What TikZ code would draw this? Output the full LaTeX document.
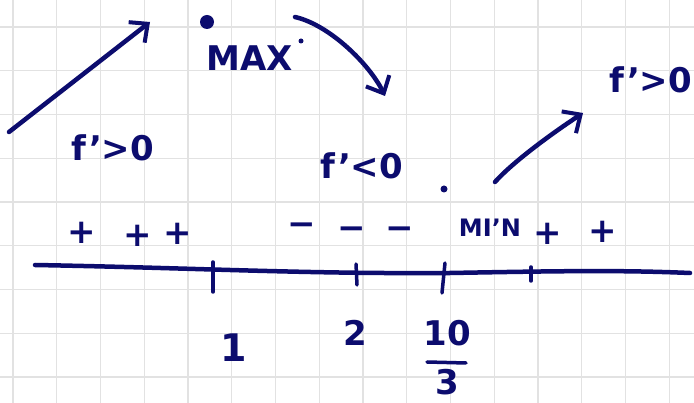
\documentclass[tikz,border=0pt]{standalone}
\usepackage{fontspec}
\setmainfont{DejaVu Sans}
\usetikzlibrary{arrows.meta}
\definecolor{ink}{HTML}{0C0C6E}
\definecolor{gridc}{HTML}{E2E2E2}
\tikzset{
  pen/.style={draw=ink,line width=4.5pt,line cap=round,line join=round},
  tickpen/.style={draw=ink,line width=3.5pt,line cap=round},
  hand/.style={text=ink,inner sep=0pt,font=\bfseries\fontsize{34}{34}\selectfont},
  bighand/.style={text=ink,inner sep=0pt,font=\bfseries\fontsize{38}{38}\selectfont},
  smallhand/.style={text=ink,inner sep=0pt,font=\bfseries\fontsize{24}{24}\selectfont},
  barb/.style={-{Straight Barb[length=14pt,width=26pt,line width=4pt]}}
}
\begin{document}
\begin{tikzpicture}[x=1pt,y=-1pt]
\useasboundingbox (0,0) rectangle (694,403);
\fill[white] (0,0) rectangle (694,403);
% grid
\foreach \i in {0,...,15} {
  \draw[gridc,line width=1.4pt] ({13+43.75*\i},0) -- ({13+43.75*\i},403);
}
\foreach \j in {0,...,8} {
  \draw[gridc,line width=1.4pt] (0,{27+43.75*\j}) -- (694,{27+43.75*\j});
}
% number line
\coordinate (lineL) at (35,265);
\coordinate (lineR) at (690,273);
\draw[pen] (lineL) .. controls (200,268) and (300,274) .. (450,273) .. controls (560,271) and (620,270) .. (lineR);
% ticks
\coordinate (t1a) at (213,262); \coordinate (t1b) at (213,292);
\coordinate (t2a) at (356,264); \coordinate (t2b) at (357,285);
\coordinate (t3a) at (445,263); \coordinate (t3b) at (442,293);
\coordinate (t4a) at (531,267); \coordinate (t4b) at (531,281);
\draw[tickpen] (t1a) -- (t1b);
\draw[tickpen] (t2a) -- (t2b);
\draw[tickpen] (t3a) -- (t3b);
\draw[tickpen] (t4a) -- (t4b);
% tick labels
\node[bighand] (one) at (234,348) {1};
\node[hand] (two) at (355,333) {2};
\node[hand] (ten) at (447,333) {10};
\coordinate (barL) at (427,362); \coordinate (barR) at (466,363);
\draw[tickpen] (barL) -- (barR);
\node[hand] (three) at (447,382) {3};
% signs
\node[hand] (p1) at (82,233) {+};
\node[hand] (p2) at (138,236) {+};
\node[hand] (p3) at (178,234) {+};
\node[hand] (m1) at (302,229) {−};
\node[hand] (m2) at (352,233) {−};
\node[hand] (m3) at (400,233) {−};
\node[hand] (p4) at (548,234) {+};
\node[hand] (p5) at (603,232) {+};
% MIN
\node[smallhand] (min) at (490,228) {MI'N};
\fill[ink] (444,189) circle (3.5pt);
\coordinate (minpt) at (444,189);
% f' labels
\node[hand] (fleft) at (113,148) {f'>0};
\node[hand] (fmid) at (362,166) {f'<0};
\node[hand] (fright) at (651,80) {f'>0};
% MAX
\fill[ink] (207,22) circle (7pt);
\coordinate (maxpt) at (207,22);
\node[hand] (max) at (250,58) {MAX};
\fill[ink] (301,41) circle (2.5pt);
% arrows
\coordinate (a1s) at (9,132); \coordinate (a1e) at (150,22);
\draw[pen,barb] (a1s) -- (a1e);
\coordinate (a2s) at (295,17); \coordinate (a2e) at (385,96);
\draw[pen,barb] (a2s) .. controls (330,25) and (370,65) .. (a2e);
\coordinate (a3s) at (495,182); \coordinate (a3e) at (583,113);
\draw[pen,barb] (a3s) .. controls (510,165) and (545,138) .. (a3e);
\end{tikzpicture}
\end{document}
